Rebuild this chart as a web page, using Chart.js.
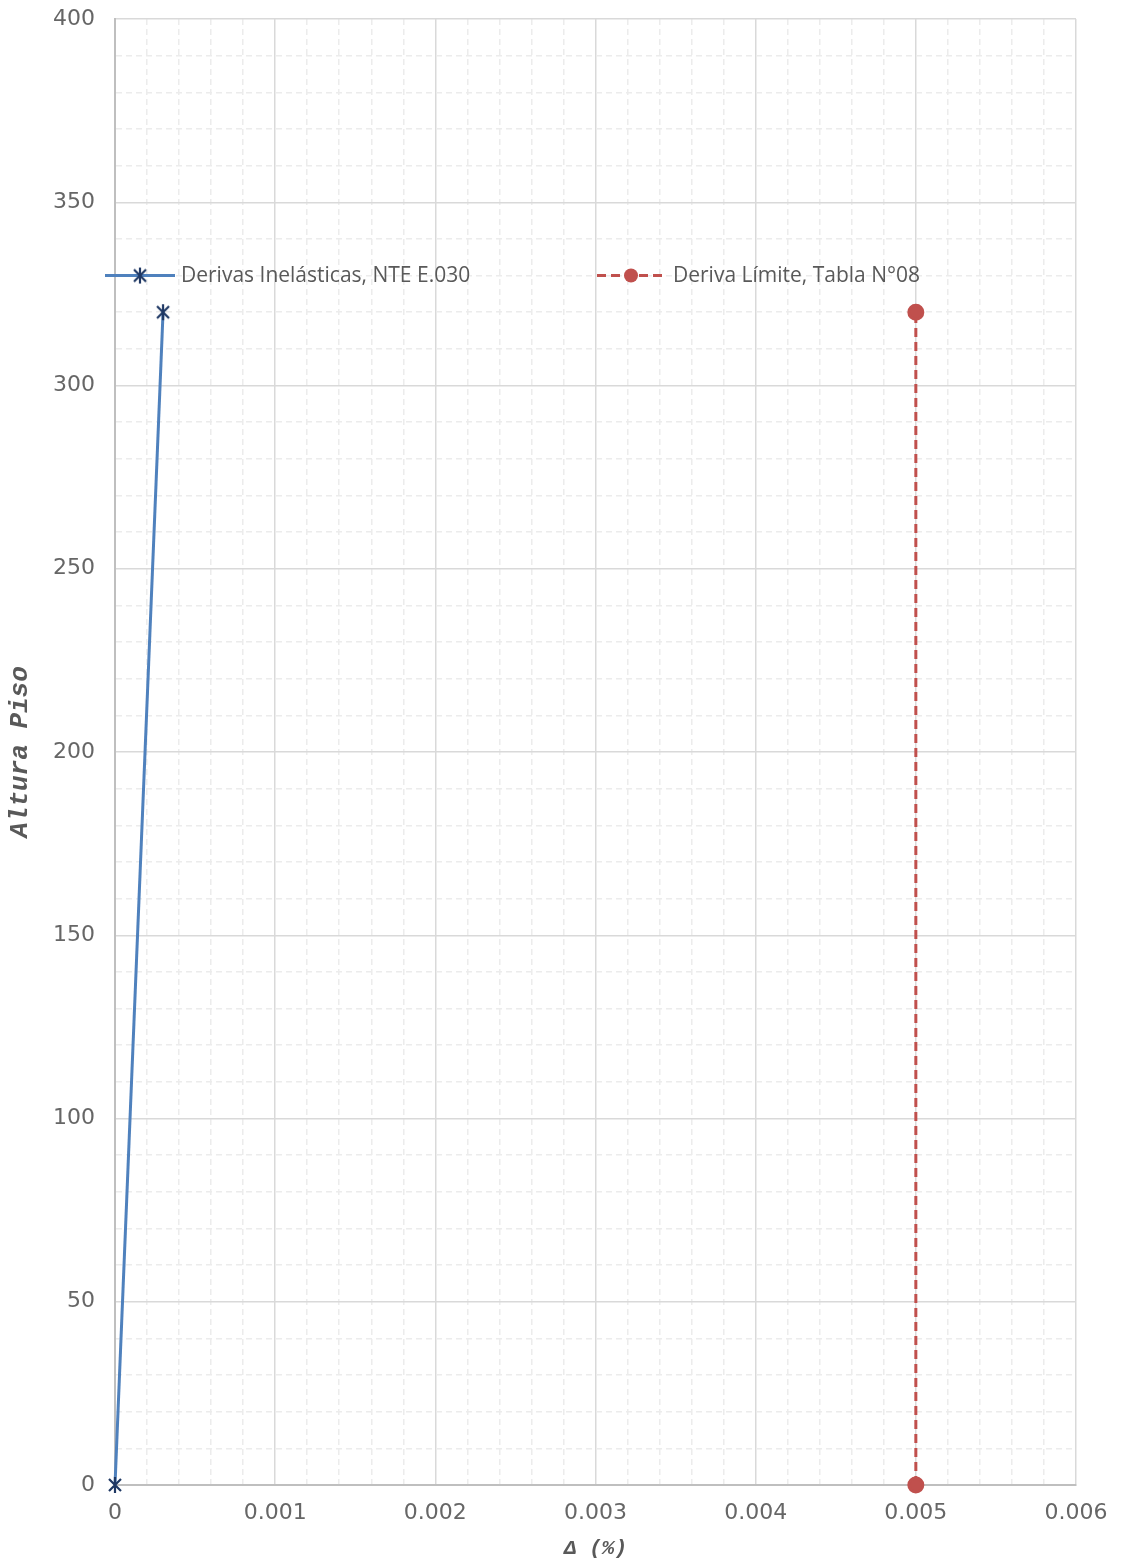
<!DOCTYPE html>
<html>
<head>
<meta charset="utf-8">
<script src="https://cdn.jsdelivr.net/npm/chart.js@4.4.1/dist/chart.umd.min.js"></script>
<style>
  html, body { margin: 0; padding: 0; background: #fff; }
  #wrap { position: relative; width: 1126px; height: 1564px; }
</style>
</head>
<body>
<div id="wrap"><canvas id="drift" width="1126" height="1564"></canvas></div>
<script>
// Derivas - chart data
const seriesNames = ['Derivas Inelásticas, NTE E.030', 'Deriva Límite, Tabla N°08'];
const inelasticX = [0, 0.0003];
const inelasticY = [0, 320];
const limitX = [0.005, 0.005];
const limitY = [0, 320];
const xTicks = [0, 0.001, 0.002, 0.003, 0.004, 0.005, 0.006];
const yTicks = [0, 50, 100, 150, 200, 250, 300, 350, 400];

const tickFont = { family: 'DejaVu Sans', size: 22, weight: 'normal' };
const tickColor = '#666666';

// asterisk marker like the spreadsheet one (x plus vertical bar)
function makeStar(color) {
  const c = document.createElement('canvas');
  c.width = 18; c.height = 18;
  const g = c.getContext('2d');
  g.strokeStyle = color;
  g.lineWidth = 2.2;
  g.beginPath();
  g.moveTo(3, 3); g.lineTo(15, 15);
  g.moveTo(15, 3); g.lineTo(3, 15);
  g.moveTo(9, 1); g.lineTo(9, 17);
  g.stroke();
  return c;
}
const starMark = makeStar('#1f3864');

function isMajor(v, step) {
  const r = v / step;
  return Math.abs(r - Math.round(r)) < 1e-6;
}

function toPoints(xs, ys) {
  return xs.map((x, i) => ({ x: x, y: ys[i] }));
}

// legend drawn inside the plot, as in the original
const innerLegend = {
  id: 'innerLegend',
  afterDraw(chart) {
    const ctx = chart.ctx;
    const y = chart.scales.y.getPixelForValue(330);
    const items = [
      { x0: 105, x1: 175, mx: 140, tx: 181, ds: chart.data.datasets[0] },
      { x0: 597, x1: 666, mx: 631, tx: 673, ds: chart.data.datasets[1] }
    ];
    ctx.save();
    items.forEach(it => {
      ctx.strokeStyle = it.ds.borderColor;
      ctx.lineWidth = it.ds.borderWidth;
      ctx.setLineDash(it.ds.borderDash || []);
      ctx.beginPath();
      ctx.moveTo(it.x0, y);
      ctx.lineTo(it.x1, y);
      ctx.stroke();
      ctx.setLineDash([]);
      if (it.ds.pointStyle === 'circle') {
        ctx.fillStyle = it.ds.pointBackgroundColor;
        ctx.beginPath();
        ctx.arc(it.mx, y, 7, 0, Math.PI * 2);
        ctx.fill();
      } else {
        ctx.drawImage(starMark, it.mx - 9, y - 9);
      }
      ctx.fillStyle = '#595959';
      ctx.font = '21px "Open Sans"';
      ctx.textBaseline = 'middle';
      ctx.textAlign = 'left';
      ctx.fillText(it.ds.label, it.tx, y);
    });
    ctx.restore();
  }
};

new Chart(document.getElementById('drift'), {
  type: 'scatter',
  data: {
    datasets: [{
      label: seriesNames[0],
      data: toPoints(inelasticX, inelasticY),
      showLine: true,
      clip: false,
      borderColor: '#4f81bd',
      borderWidth: 3,
      pointStyle: starMark,
      pointRadius: 9,
      pointHoverRadius: 9
    }, {
      label: seriesNames[1],
      data: toPoints(limitX, limitY),
      showLine: true,
      clip: false,
      borderColor: '#c0504d',
      borderWidth: 3,
      borderDash: [9, 5],
      pointStyle: 'circle',
      pointRadius: 7,
      pointHoverRadius: 7,
      pointBackgroundColor: '#c0504d',
      pointBorderColor: '#c0504d'
    }]
  },
  options: {
    responsive: false,
    animation: false,
    layout: { padding: { top: 19, right: 50, left: 0, bottom: 0 } },
    plugins: {
      legend: { display: false },
      tooltip: { enabled: false }
    },
    scales: {
      x: {
        type: 'linear',
        min: 0,
        max: 0.006,
        afterBuildTicks: function (scale) {
          scale.ticks = [];
          for (let i = 0; i <= 30; i++) scale.ticks.push({ value: i * 0.0002 });
        },
        afterFit: function (scale) {
          scale.height = 79;
          scale.paddingLeft = 0;
          scale.paddingRight = 0;
        },
        ticks: {
          autoSkip: false,
          maxRotation: 0,
          padding: 15,
          color: tickColor,
          font: tickFont,
          callback: function (value) {
            if (!isMajor(value, 0.001)) return '';
            const hit = xTicks.find(t => Math.abs(t - value) < 1e-9);
            return hit === undefined ? '' : (hit === 0 ? '0' : hit.toFixed(3));
          }
        },
        grid: {
          drawTicks: false,
          lineWidth: 1.5,
          color: function (ctx) {
            return isMajor(ctx.tick.value, 0.001) ? '#d9d9d9' : '#ececec';
          }
        },
        border: {
          color: '#bfbfbf',
          width: 2,
          dash: function (ctx) {
            return ctx.tick && isMajor(ctx.tick.value, 0.001) ? [] : [6, 4];
          }
        },
        title: {
          display: true,
          text: 'Δ (%)',
          color: '#595959',
          font: { family: 'Liberation Mono', size: 21, weight: 'bold', style: 'italic' },
          padding: { top: 0, bottom: 3 }
        }
      },
      y: {
        type: 'linear',
        min: 0,
        max: 400,
        afterBuildTicks: function (scale) {
          scale.ticks = [];
          for (let v = 0; v <= 400; v += 10) scale.ticks.push({ value: v });
        },
        afterFit: function (scale) {
          scale.width = 115;
          scale.paddingTop = 0;
          scale.paddingBottom = 0;
        },
        ticks: {
          autoSkip: false,
          padding: 20,
          color: tickColor,
          font: tickFont,
          callback: function (value) {
            return yTicks.indexOf(value) >= 0 ? String(value) : '';
          }
        },
        grid: {
          drawTicks: false,
          lineWidth: 1.5,
          color: function (ctx) {
            return isMajor(ctx.tick.value, 50) ? '#d9d9d9' : '#ececec';
          }
        },
        border: {
          color: '#bfbfbf',
          width: 2,
          dash: function (ctx) {
            return ctx.tick && isMajor(ctx.tick.value, 50) ? [] : [6, 4];
          }
        },
        title: {
          display: true,
          text: 'Altura Piso',
          color: '#595959',
          font: { family: 'Liberation Mono', size: 26, weight: 'bold', style: 'italic' },
          padding: { top: 5, bottom: 0 }
        }
      }
    }
  },
  plugins: [innerLegend]
});
</script>
</body>
</html>
